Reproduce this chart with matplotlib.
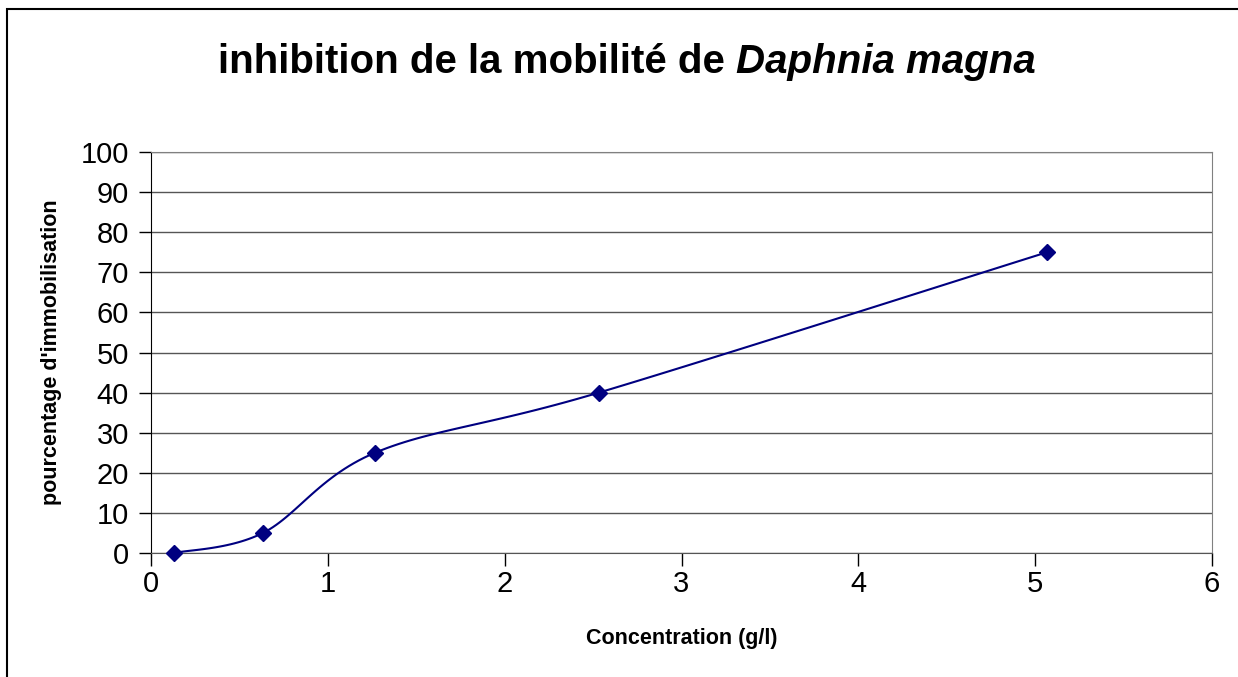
import numpy as np
import matplotlib.pyplot as plt
from matplotlib.patches import Rectangle

plt.rcParams['font.family'] = ['Liberation Sans', 'DejaVu Sans']

# donnees
concentration = [0.13, 0.633, 1.267, 2.533, 5.067]
immobilisation = [0, 5, 25, 40, 75]
x_ticks = [0, 1, 2, 3, 4, 5, 6]
y_ticks = [0, 10, 20, 30, 40, 50, 60, 70, 80, 90, 100]

navy = '#000080'


def smooth_line(ax, xs, ys, n=30):
    """courbe lissee facon Excel (Bezier) calculee en coordonnees ecran"""
    pts = ax.transData.transform(np.column_stack([xs, ys]))
    out = []
    for i in range(len(pts) - 1):
        p0 = pts[i - 1] if i > 0 else pts[i]
        p1 = pts[i]
        p2 = pts[i + 1]
        p3 = pts[i + 2] if i + 2 < len(pts) else pts[i + 1]
        c1 = p1 + (p2 - p0) / 6.0
        c2 = p2 - (p3 - p1) / 6.0
        t = np.linspace(0, 1, n)[:, None]
        seg = ((1 - t) ** 3) * p1 + 3 * ((1 - t) ** 2) * t * c1 + 3 * (1 - t) * t ** 2 * c2 + t ** 3 * p2
        out.append(seg)
    out = np.vstack(out)
    return ax.transData.inverted().transform(out)


fig = plt.figure(figsize=(12.38, 6.77), dpi=100)
ax = fig.add_axes([151 / 1238, 1 - 553 / 677, 1061 / 1238, 401 / 677])

ax.set_xlim(0, 6)
ax.set_ylim(0, 100)
ax.set_xticks(x_ticks)
ax.set_yticks(y_ticks)
ax.tick_params(axis='both', labelsize=21, direction='out', length=9, width=1, color='black')
ax.tick_params(axis='y', pad=7)
ax.tick_params(axis='x', pad=3)
ax.yaxis.grid(True, color='#555555', linewidth=1)
ax.set_axisbelow(True)
for s in ['top', 'right']:
    ax.spines[s].set_color('#808080')
ax.spines['left'].set_color('black')
ax.spines['bottom'].set_color('#555555')

curve = smooth_line(ax, concentration, immobilisation)
ax.plot(curve[:, 0], curve[:, 1], color=navy, linewidth=1.5, zorder=3)
ax.plot(concentration, immobilisation, linestyle='none', marker='D', markersize=8,
        color=navy, zorder=4, clip_on=False)

ax.set_xlabel('Concentration (g/l)', fontsize=15.5, fontweight='bold', labelpad=22)
ax.set_ylabel("pourcentage d'immobilisation", fontsize=15.5, fontweight='bold', labelpad=13)

# titre en deux morceaux (partie en italique), centre sur le graphique
ty = 1 - 62 / 677
t1 = fig.text(0, ty, 'inhibition de la mobilité de ', fontsize=29, fontweight='bold',
              ha='left', va='center')
t2 = fig.text(0, ty, 'Daphnia magna', fontsize=29, fontweight='bold', style='italic',
              ha='left', va='center')
r = fig.canvas.get_renderer()
w1 = t1.get_window_extent(r).width / fig.bbox.width
w2 = t2.get_window_extent(r).width / fig.bbox.width
x0 = 627 / 1238 - (w1 + w2) / 2
t1.set_x(x0)
t2.set_x(x0 + w1)

fig.patches.append(Rectangle((7 / 1238, -0.1), 1.2, 1 - 9 / 677 + 0.1, transform=fig.transFigure,
                             fill=False, edgecolor='black', linewidth=1.5))

fig.savefig('out.png', dpi=100)
